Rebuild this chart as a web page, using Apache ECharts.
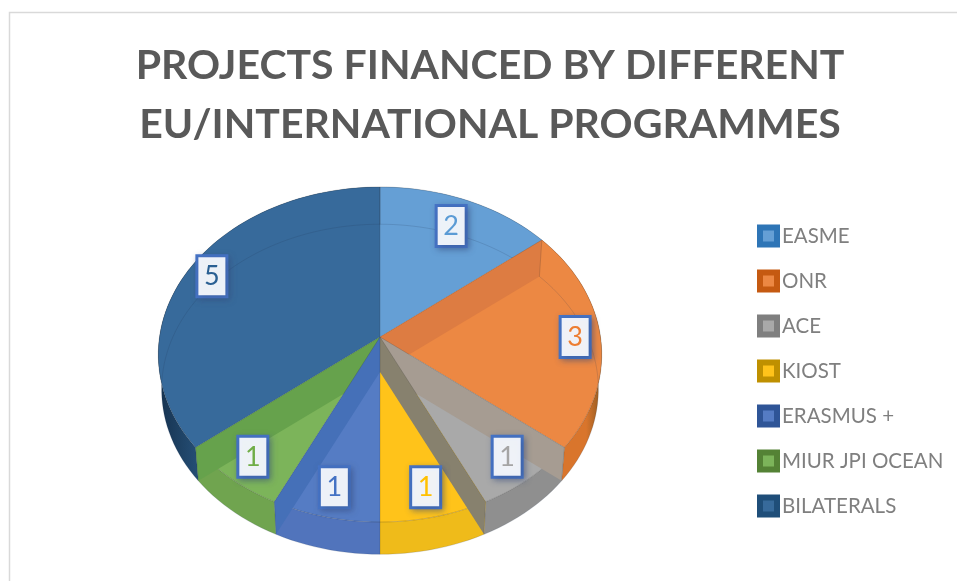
<!DOCTYPE html>
<html>
<head>
<meta charset="utf-8">
<style>html,body{margin:0;padding:0;background:#fff}#c{width:957px;height:581px}</style>
<script src="https://cdn.jsdelivr.net/npm/echarts@6/dist/echarts.min.js"></script>
</head>
<body>
<div id="c"></div>
<script>
// ---- data ----
var categories = ['EASME', 'ONR', 'ACE', 'KIOST', 'ERASMUS +', 'MIUR JPI OCEAN', 'BILATERALS'];
var projects = [2, 3, 1, 1, 1, 1, 5];
var titleLines = ['PROJECTS FINANCED BY DIFFERENT', 'EU/INTERNATIONAL PROGRAMMES'];

// ---- styles ----
var faceColors = ['#659FD5', '#EC8843', '#A9A9A9', '#FFC31A', '#557CC4', '#7CB45A', '#376A9B'];
var labelColors = ['#5B9BD5', '#ED7D31', '#A5A5A5', '#FFC000', '#4472C4', '#70AD47', '#2A6093'];
var legendEdge = ['#2E75B6', '#C55A11', '#7F7F7F', '#BF9000', '#2F5597', '#548235', '#1F4E79'];
var sideStart = ['#659FD5', '#D9752C', '#8F8F8F', '#EFBB1A', '#5174BC', '#70A44F', '#2B5A85'];
var sideEnd = ['#659FD5', '#8F5A22', '#8F8F8F', '#EFBB1A', '#5174BC', '#70A44F', '#16324F'];
// band drawn under the slice's closing edge (wall seen through the glass)
var bandColors = ['#DD7C42', '#A69C92', '#87816E', null, '#4570B8', '#66A24C', null];
var labelRadius = [0.8, 0.885, 0.86, 0.85, 0.85, 0.86, 0.88];

// ---- projection of the tilted disc ----
var CX = 380, CY = 337, RX = 220.5, RY = 165.7, PERSP = 0.1045, DEPTH = 35, FLOOR_SCALE = 0.985;
function project(r, deg, floor) {
  var a = deg * Math.PI / 180, u = r * Math.sin(a), v = r * Math.cos(a), d = 1 + PERSP * v;
  var s = floor ? FLOOR_SCALE : 1;
  return [CX + s * RX * u / d, CY - s * RY * v / d + (floor ? DEPTH : 0)];
}
function arc(a0, a1, floor) {
  var pts = [], n = Math.max(2, Math.ceil((a1 - a0) / 2));
  for (var i = 0; i <= n; i++) pts.push(project(1, a0 + (a1 - a0) * i / n, floor));
  return pts;
}
var total = projects.reduce(function (s, v) { return s + v; }, 0);

function sliceRenderer(index) {
  return function (params, api) {
    var before = 0;
    for (var k = 0; k < index; k++) before += projects[k];
    var a0 = before / total * 360;
    var a1 = a0 + api.value(0) / total * 360;
    var mid = (a0 + a1) / 2;
    var kids = [];
    var top = arc(a0, a1, false), low = arc(a0, a1, true);
    // outer wall
    var leftToRight = mid < 180;
    kids.push({
      type: 'polygon', z2: 1,
      shape: { points: top.concat(low.slice().reverse()) },
      style: {
        fill: {
          type: 'linear', x: leftToRight ? 0 : 1, y: 0, x2: leftToRight ? 1 : 0, y2: 0,
          colorStops: [{ offset: 0, color: sideStart[index] }, { offset: 0.75, color: sideStart[index] }, { offset: 1, color: sideEnd[index] }]
        }
      }
    });
    // top face
    kids.push({
      type: 'polygon', z2: 2,
      shape: { points: [[CX, CY]].concat(top) },
      style: { fill: faceColors[index] }
    });
    // floor rim seen through the top
    kids.push({
      type: 'polyline', z2: 3,
      shape: { points: low },
      style: { fill: null, stroke: 'rgba(30,50,80,0.16)', lineWidth: 1 }
    });
    // top rim
    kids.push({
      type: 'polyline', z2: 3,
      shape: { points: top },
      style: { fill: null, stroke: 'rgba(30,30,30,0.22)', lineWidth: 1 }
    });
    // wall band
    var e0 = project(1, a1, false), e1 = project(1, a1, true);
    if (bandColors[index]) {
      kids.push({
        type: 'polygon', z2: 4 + (index >= 4 ? 6 - index : index) * 0.1,
        shape: { points: [[CX, CY], e0, e1, [CX, CY + DEPTH]] },
        style: { fill: bandColors[index] }
      });
    }
    // radial seam and wall seam
    kids.push({
      type: 'polyline', z2: 4.9,
      shape: { points: [[CX, CY], e0, e1] },
      style: { fill: null, stroke: 'rgba(40,40,40,0.18)', lineWidth: 1 }
    });
    // data label
    var p = project(labelRadius[index], mid, false);
    kids.push({
      type: 'text', z2: 6,
      style: {
        x: p[0], y: p[1], text: String(api.value(0)), align: 'center', verticalAlign: 'middle',
        font: '27px Lato', fill: labelColors[index],
        backgroundColor: 'rgba(243,246,251,0.97)', borderColor: '#4472C4', borderWidth: 3,
        width: 27, height: 38, lineHeight: 38,
        shadowColor: 'rgba(50,70,120,0.45)', shadowBlur: 6, shadowOffsetX: 2, shadowOffsetY: 2
      }
    });
    return { type: 'group', children: kids };
  };
}

var chart = echarts.init(document.getElementById('c'), null, { renderer: 'canvas' });
chart.setOption({
  animation: false,
  backgroundColor: '#ffffff',
  title: {
    text: titleLines.join('\n'),
    left: 485, top: 31, textAlign: 'center',
    textStyle: { fontFamily: 'Lato', fontWeight: 'bold', fontSize: 41, lineHeight: 59, color: '#595959' }
  },
  legend: {
    orient: 'vertical', left: 752, top: 219, itemWidth: 17, itemHeight: 17, itemGap: 21, selectedMode: false,
    textStyle: { fontFamily: 'Lato', fontSize: 20.5, color: '#7F7F7F', lineHeight: 24 },
    data: categories.map(function (name, i) {
      return {
        name: name, icon: 'rect',
        itemStyle: { color: faceColors[i], borderColor: legendEdge[i], borderWidth: 6 }
      };
    })
  },
  graphic: [{
    type: 'rect', silent: true, z: -1,
    shape: { x: 9.5, y: 12.5, width: 1000, height: 640 },
    style: { fill: null, stroke: '#D9D9D9', lineWidth: 1.5 }
  }],
  series: categories.map(function (name, i) {
    return {
      type: 'custom', name: name, coordinateSystem: 'none', silent: true,
      itemStyle: { color: faceColors[i] },
      data: [[projects[i]]],
      renderItem: sliceRenderer(i)
    };
  })
});
</script>
</body>
</html>
